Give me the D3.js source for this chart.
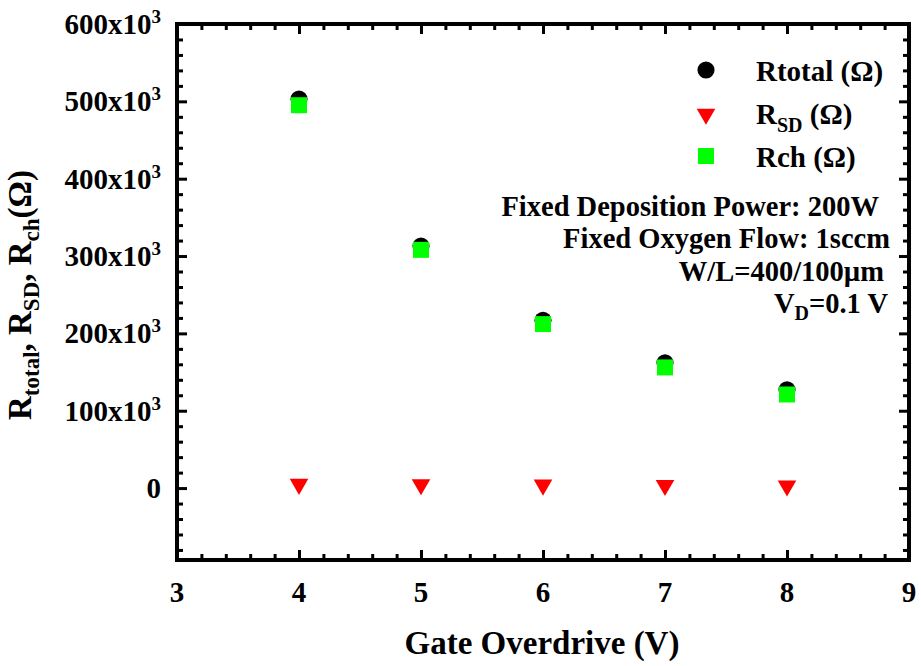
<!DOCTYPE html>
<html>
<head>
<meta charset="utf-8">
<script src="https://cdn.jsdelivr.net/npm/d3@7"></script>
<style>
  html, body { margin: 0; padding: 0; background: #fff; }
  svg { display: block; font-family: "Liberation Serif", "Times New Roman", serif; font-weight: bold; }
</style>
</head>
<body>
<svg id="chart" width="921" height="666"></svg>
<script>
// Gate overdrive sweep (V)
const gateOverdrive = [4, 5, 6, 7, 8];
// Total resistance (Ohm)
const rTotal = [503000, 313000, 217000, 162000, 127000];
// Source/drain series resistance (Ohm)
const rSD = [5000, 4500, 4000, 3500, 3000];
// Channel resistance (Ohm)
const rCh = [495000, 308000, 212000, 156000, 121000];

const xTickValues = [3, 4, 5, 6, 7, 8, 9];
const yTickValues = [0, 100000, 200000, 300000, 400000, 500000, 600000];
const yTickLabels = ["0", "100x10", "200x10", "300x10", "400x10", "500x10", "600x10"];

const conditionNotes = [
  "Fixed Deposition Power: 200W",
  "Fixed Oxygen Flow: 1sccm",
  "W/L=400/100\u00B5m"
];

const svg = d3.select("#chart");
const margin = { left: 177, right: 12, top: 24, bottom: 106 };
const W = 921, H = 666;

const x = d3.scaleLinear().domain([3, 9]).range([margin.left, W - margin.right]);
const y = d3.scaleLinear().domain([-93000, 600000]).range([H - margin.bottom, margin.top]);

const x0 = x.range()[0], x1 = x.range()[1];
const y0 = y.range()[0], y1 = y.range()[1];

const xMinor = d3.range(3, 9.001, 0.2).filter(v => Math.abs(v - Math.round(v)) > 1e-6);
const yMinor = d3.range(-80000, 600001, 20000).filter(v => v % 100000 !== 0);

function styleAxis(g) {
  g.select(".domain").remove();
  g.selectAll(".tick line").attr("stroke", "#000").attr("stroke-width", 3);
  g.selectAll(".tick text").remove();
}

// Inward ticks on all four sides: major and minor
const axes = [
  { make: d3.axisBottom(x), t: `translate(0,${y0})`, major: xTickValues, minor: xMinor },
  { make: d3.axisTop(x), t: `translate(0,${y1})`, major: xTickValues, minor: xMinor },
  { make: d3.axisLeft(y), t: `translate(${x0},0)`, major: yTickValues, minor: yMinor },
  { make: d3.axisRight(y), t: `translate(${x1},0)`, major: yTickValues, minor: yMinor }
];
axes.forEach(a => {
  svg.append("g").attr("transform", a.t)
    .call(a.make.tickValues(a.major).tickSize(-10).tickSizeOuter(0)).call(styleAxis);
  svg.append("g").attr("transform", a.t)
    .call(a.make.tickValues(a.minor).tickSize(-6).tickSizeOuter(0)).call(styleAxis);
});

// Frame
svg.append("rect")
  .attr("x", x0).attr("y", y1)
  .attr("width", x1 - x0).attr("height", y0 - y1)
  .attr("fill", "none").attr("stroke", "#000").attr("stroke-width", 4);

// X tick labels
svg.append("g").selectAll("text").data(xTickValues).join("text")
  .attr("x", d => x(d)).attr("y", y0 + 42)
  .attr("text-anchor", "middle").attr("font-size", 29)
  .text(d => d);

// Y tick labels with power-of-ten superscript
const yl = svg.append("g").selectAll("text").data(yTickValues).join("text")
  .attr("x", x0 - 16).attr("y", d => y(d) + 10)
  .attr("text-anchor", "end").attr("font-size", 29);
yl.each(function(d, i) {
  const t = d3.select(this);
  t.append("tspan").text(yTickLabels[i]);
  if (d !== 0) t.append("tspan").attr("font-size", 19).attr("dy", -11).text("3");
});

// Axis titles
svg.append("text")
  .attr("x", (x0 + x1) / 2 - 1).attr("y", 654)
  .attr("text-anchor", "middle").attr("font-size", 33)
  .text("Gate Overdrive (V)");

const yt = svg.append("text")
  .attr("transform", `translate(31,${(y0 + y1) / 2 + 3}) rotate(-90)`)
  .attr("text-anchor", "middle").attr("font-size", 33);
yt.append("tspan").text("R");
yt.append("tspan").attr("font-size", 23).attr("dy", 8).text("total");
yt.append("tspan").attr("dy", -8).text(", R");
yt.append("tspan").attr("font-size", 23).attr("dy", 8).text("SD");
yt.append("tspan").attr("dy", -8).text(", R");
yt.append("tspan").attr("font-size", 23).attr("dy", 8).text("ch");
yt.append("tspan").attr("dy", -8).text("(\u03A9)");

// Data marks
const circleSym = d3.symbol().type(d3.symbolCircle).size(230);
const triSym = d3.symbol().type(d3.symbolTriangle).size(150);
const sqSym = d3.symbol().type(d3.symbolSquare).size(256);

const marks = svg.append("g");
marks.selectAll(".tot").data(gateOverdrive).join("path").attr("class", "tot")
  .attr("d", circleSym).attr("fill", "#000")
  .attr("transform", (d, i) => `translate(${x(d)},${y(rTotal[i])})`);
marks.selectAll(".sd").data(gateOverdrive).join("path").attr("class", "sd")
  .attr("d", triSym).attr("fill", "#ff0000")
  .attr("transform", (d, i) => `translate(${x(d)},${y(rSD[i])}) rotate(180)`);
marks.selectAll(".ch").data(gateOverdrive).join("path").attr("class", "ch")
  .attr("d", sqSym).attr("fill", "#00ff00")
  .attr("transform", (d, i) => `translate(${x(d)},${y(rCh[i])})`);

// Legend
const legend = svg.append("g");
const legX = 706, legTextX = 756;
legend.append("path").attr("d", circleSym).attr("fill", "#000")
  .attr("transform", `translate(${legX},70)`);
legend.append("path").attr("d", triSym).attr("fill", "#ff0000")
  .attr("transform", `translate(${legX},114) rotate(180)`);
legend.append("path").attr("d", sqSym).attr("fill", "#00ff00")
  .attr("transform", `translate(${legX},156)`);

legend.append("text").attr("x", legTextX).attr("y", 81).attr("font-size", 29)
  .text("Rtotal (\u03A9)");
const lsd = legend.append("text").attr("x", legTextX).attr("y", 124).attr("font-size", 29);
lsd.append("tspan").text("R");
lsd.append("tspan").attr("font-size", 20).attr("dy", 8).text("SD");
lsd.append("tspan").attr("dy", -8).text(" (\u03A9)");
legend.append("text").attr("x", legTextX).attr("y", 167).attr("font-size", 29)
  .text("Rch (\u03A9)");

// Process conditions
const notes = svg.append("g").attr("font-size", 28.5).attr("text-anchor", "end");
const noteRight = [879, 890, 884];
const noteBase = [216, 248, 281];
conditionNotes.forEach((s, i) => {
  notes.append("text").attr("x", noteRight[i]).attr("y", noteBase[i]).text(s);
});
const vd = notes.append("text").attr("x", 888).attr("y", 313);
vd.append("tspan").text("V");
vd.append("tspan").attr("font-size", 20).attr("dy", 7).text("D");
vd.append("tspan").attr("dy", -7).text("=0.1 V");
</script>
</body>
</html>
